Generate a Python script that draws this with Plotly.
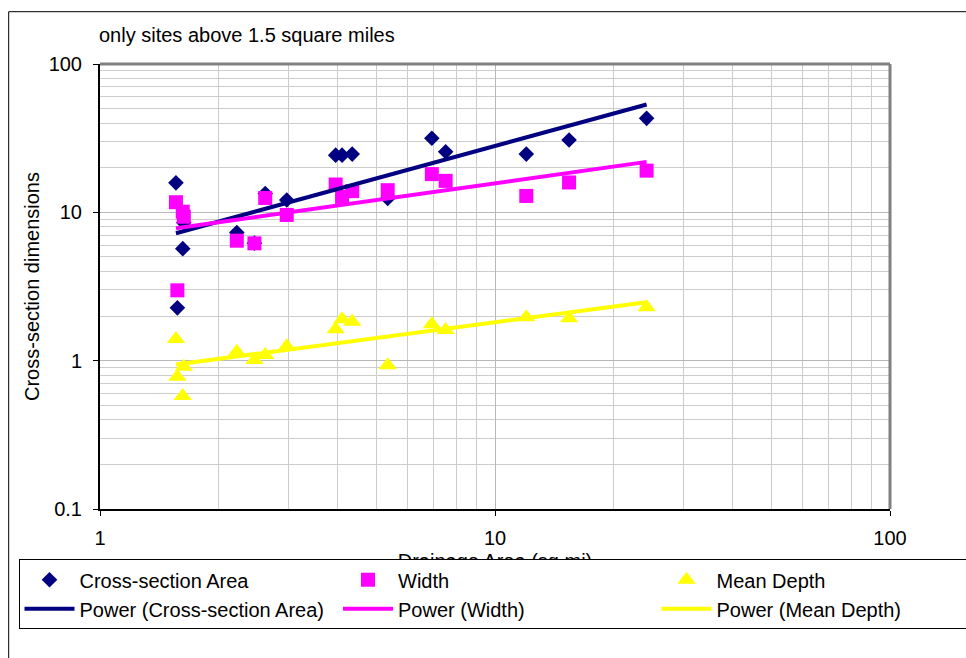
import numpy as np
import plotly.graph_objects as go

# Drainage area of each site (sq mi)
drainage_area = [1.557, 1.57, 1.62, 1.63, 2.22, 2.46, 2.62, 2.97, 3.95, 4.10,
                 4.35, 5.35, 6.92, 7.50, 12.0, 15.4, 24.2]
# Bankfull cross-section area (sq ft)
xs_area = [15.8, 2.27, 5.69, 8.5, 7.3, 6.2, 13.4, 12.1, 24.3, 24.3,
           24.7, 12.4, 31.6, 25.6, 24.7, 30.7, 43.0]
# Bankfull width (ft)
width = [11.7, 2.98, 10.1, 9.34, 6.44, 6.18, 12.5, 9.6, 15.4, 12.7,
         13.9, 14.1, 18.1, 16.3, 12.9, 15.9, 19.1]
# Mean depth (ft)
mean_depth = [1.40, 0.78, 0.577, 0.91, 1.15, 1.01, 1.09, 1.25, 1.63, 1.90,
              1.83, 0.93, 1.76, 1.61, 1.96, 1.93, 2.29]

x_ticks = [1, 10, 100]
x_tick_text = ["1", "10", "100"]
y_ticks = [0.1, 1, 10, 100]
y_tick_text = ["0.1", "1", "10", "100"]

NAVY = "#000080"
MAGENTA = "#FF00FF"
YELLOW = "#FFFF00"
FONT = "Liberation Sans, Arial, sans-serif"


def power_fit(x, y):
    """Least-squares power trendline y = a * x^b over the data's x extent."""
    lx, ly = np.log10(x), np.log10(y)
    b, la = np.polyfit(lx, ly, 1)
    xs = np.logspace(lx.min(), lx.max(), 60)
    return xs, 10 ** la * xs ** b


x_arr = np.array(drainage_area)

fig = go.Figure()

fig.add_trace(go.Scatter(x=drainage_area, y=xs_area, mode="markers", name="Cross-section Area",
                         marker=dict(symbol="diamond", size=12, color=NAVY)))
fig.add_trace(go.Scatter(x=drainage_area, y=width, mode="markers", name="Width",
                         marker=dict(symbol="square", size=14, color=MAGENTA)))
fig.add_trace(go.Scatter(x=drainage_area, y=mean_depth, mode="markers", name="Mean Depth",
                         marker=dict(symbol="triangle-up", size=16, color=YELLOW)))

for vals, color, label in [(xs_area, NAVY, "Power (Cross-section Area)"),
                           (width, MAGENTA, "Power (Width)"),
                           (mean_depth, YELLOW, "Power (Mean Depth)")]:
    fx, fy = power_fit(x_arr, np.array(vals))
    fig.add_trace(go.Scatter(x=fx, y=fy, mode="lines", name=label,
                             line=dict(color=color, width=4)))

minor_vals = [m * 10 ** e for e in range(-1, 2) for m in range(2, 10)]

W, H = 966, 658
ML, MT, MB = 100, 64, 149
PW = W - ML          # plot area width (right margin 0)
PH = H - MT - MB     # plot area height
X_RIGHT = 890        # right edge of the x axis in px


def px_x(p):
    return (p - ML) / PW


def px_y(p):
    return (MT + PH - p) / PH


fig.update_layout(
    width=W, height=H,
    margin=dict(l=ML, r=0, t=MT, b=MB, autoexpand=False),
    paper_bgcolor="white", plot_bgcolor="white",
    font=dict(family=FONT, size=20, color="black"),
    showlegend=True,
    legend=dict(orientation="h", x=px_x(18.5), xanchor="left", y=px_y(559.3), yanchor="top",
                bgcolor="white", bordercolor="black", borderwidth=1,
                font=dict(family=FONT, size=20, color="black"),
                itemwidth=50, entrywidth=253.5, entrywidthmode="pixels",
                traceorder="normal", itemclick=False),
    xaxis=dict(type="log", range=[0, 2], domain=[0, (X_RIGHT - ML) / PW],
               showline=True, linecolor="black", linewidth=2,
               ticks="outside", ticklen=5, tickcolor="black", tickwidth=1,
               tickmode="array", tickvals=x_ticks, ticktext=x_tick_text,
               tickfont=dict(size=20), ticklabelstandoff=5,
               showgrid=True, gridcolor="#b8b8b8", gridwidth=1,
               minor=dict(tickmode="array", tickvals=[v for v in minor_vals if v >= 1],
                          showgrid=True, gridcolor="#cccccc", gridwidth=1, ticks=""),
               zeroline=False, automargin=False,
               title=dict(text="Drainage Area (sq mi)", font=dict(size=20), standoff=6)),
    yaxis=dict(type="log", range=[-1, 2],
               showline=True, linecolor="black", linewidth=2,
               ticks="outside", ticklen=5, tickcolor="black", tickwidth=1,
               tickmode="array", tickvals=y_ticks, ticktext=y_tick_text,
               tickfont=dict(size=20), ticklabelstandoff=7,
               showgrid=True, gridcolor="#b8b8b8", gridwidth=1,
               minor=dict(tickmode="array", tickvals=minor_vals,
                          showgrid=True, gridcolor="#cccccc", gridwidth=1, ticks=""),
               zeroline=False, automargin=False,
               title=dict(text="Cross-section dimensions", font=dict(size=20), standoff=4)),
    annotations=[dict(text="only sites above 1.5 square miles", xref="paper", yref="paper",
                      x=px_x(97), y=px_y(34.5), xanchor="left", yanchor="middle",
                      showarrow=False, font=dict(family=FONT, size=20, color="black"))],
    shapes=[
        # outer chart frame
        dict(type="rect", xref="paper", yref="paper", x0=px_x(8.7), y0=-0.6, x1=1.2, y1=px_y(11.7),
             line=dict(color="black", width=1), layer="below"),
        # grey top and right edges of the plot area
        dict(type="line", xref="x domain", yref="y domain", x0=0, x1=1, y0=1, y1=1,
             line=dict(color="#808080", width=3), layer="above"),
        dict(type="line", xref="x domain", yref="y domain", x0=1, x1=1, y0=0, y1=1,
             line=dict(color="#808080", width=3), layer="above"),
    ],
)

# keep the legend box above the x-axis title, which it partly covers
raise_legend = ("var gd=document.getElementById('{plot_id}');"
                "var il=gd.querySelector('.infolayer');"
                "var lg=il && il.querySelector('.legend');"
                "if(lg){il.appendChild(lg);}")

fig.write_html("out.html", post_script=raise_legend)
